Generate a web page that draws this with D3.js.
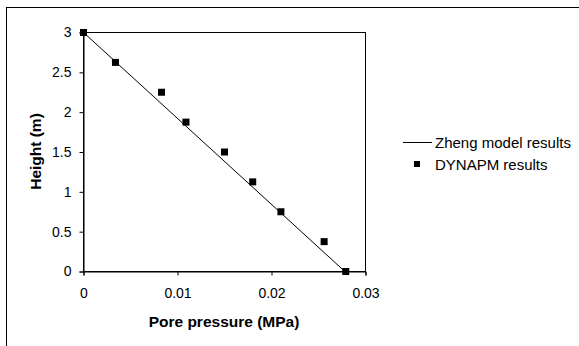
<!DOCTYPE html>
<html>
<head>
<meta charset="utf-8">
<script src="https://cdn.jsdelivr.net/npm/d3@7"></script>
<style>
  body { margin: 0; background: #fff; }
  svg { display: block; font-family: "Liberation Sans", Arial, sans-serif; }
</style>
</head>
<body>
<svg id="chart"></svg>
<script>
// Zheng model (analytical line)
const zhengX = [0, 0.0278];
const zhengY = [3, 0];

// DYNAPM results
const dynX = [0, 0.0034, 0.0083, 0.0109, 0.0150, 0.0180, 0.0210, 0.0256, 0.0279];
const dynY = [3, 2.625, 2.25, 1.875, 1.5, 1.125, 0.75, 0.375, 0];

const xTicks = [0, 0.01, 0.02, 0.03];
const yTicks = [0, 0.5, 1, 1.5, 2, 2.5, 3];
const legendLabels = ["Zheng model results", "DYNAPM results"];

const width = 579, height = 346;
const svg = d3.select("#chart").attr("width", width).attr("height", height);

// outer frame (runs off the right and bottom edge)
svg.append("rect")
  .attr("x", 6.5).attr("y", 7.5)
  .attr("width", 640).attr("height", 400)
  .attr("fill", "none").attr("stroke", "#000");

const plot = { left: 83, top: 32, right: 365, bottom: 271 };

const x = d3.scaleLinear().domain([0, 0.03]).range([plot.left, plot.right]);
const y = d3.scaleLinear().domain([0, 3]).range([plot.bottom, plot.top]);

// plot area border
svg.append("rect")
  .attr("x", plot.left + 0.5).attr("y", plot.top + 0.5)
  .attr("width", plot.right - plot.left).attr("height", plot.bottom - plot.top)
  .attr("fill", "none").attr("stroke", "#000");

const xAxis = svg.append("g")
  .attr("transform", `translate(0.5,${plot.bottom + 0.5})`)
  .call(d3.axisBottom(x).tickValues(xTicks).tickSize(4).tickPadding(13).tickFormat(d3.format("")));

const yAxis = svg.append("g")
  .attr("transform", `translate(${plot.left + 0.5},0.5)`)
  .call(d3.axisLeft(y).tickValues(yTicks).tickSize(4).tickPadding(8).tickFormat(d3.format("")));

[xAxis, yAxis].forEach(g => {
  g.select(".domain").attr("stroke", "#000");
  g.selectAll(".tick line").attr("stroke", "#000");
  g.selectAll(".tick text").attr("fill", "#000").style("font-size", "14px")
    .style("font-family", '"Liberation Sans", Arial, sans-serif');
});

// axis titles
svg.append("text")
  .attr("x", (plot.left + plot.right) / 2).attr("y", 327)
  .attr("text-anchor", "middle")
  .style("font-size", "15.5px").style("font-weight", "bold")
  .text("Pore pressure (MPa)");

svg.append("text")
  .attr("transform", `translate(41,${(plot.top + plot.bottom) / 2}) rotate(-90)`)
  .attr("text-anchor", "middle")
  .style("font-size", "15.5px").style("font-weight", "bold")
  .text("Height (m)");

// Zheng line
const line = d3.line().x(d => x(d[0])).y(d => y(d[1]));
svg.append("path")
  .datum(d3.zip(zhengX, zhengY))
  .attr("d", line)
  .attr("fill", "none").attr("stroke", "#000").attr("stroke-width", 1);

// DYNAPM markers
const ms = 7;
svg.selectAll("rect.pt")
  .data(d3.zip(dynX, dynY))
  .enter().append("rect")
  .attr("class", "pt")
  .attr("x", d => x(d[0]) - ms / 2 + 0.5)
  .attr("y", d => y(d[1]) - ms / 2 + 0.5)
  .attr("width", ms).attr("height", ms)
  .attr("fill", "#000");

// legend
const lg = svg.append("g").attr("transform", "translate(403,0)");
lg.append("line")
  .attr("x1", 0).attr("x2", 29).attr("y1", 142.5).attr("y2", 142.5)
  .attr("stroke", "#000");
lg.append("rect")
  .attr("x", 11).attr("y", 161).attr("width", 6).attr("height", 6)
  .attr("fill", "#000");
lg.selectAll("text.lg")
  .data(legendLabels)
  .enter().append("text")
  .attr("class", "lg")
  .attr("x", 32)
  .attr("y", (d, i) => 148 + i * 22)
  .style("font-size", "15px")
  .text(d => d);
</script>
</body>
</html>
